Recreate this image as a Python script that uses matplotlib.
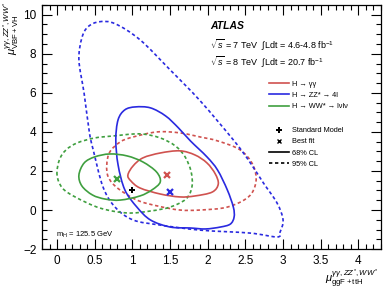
import numpy as np
import matplotlib
matplotlib.use("Agg")
from matplotlib import pyplot as plt
from matplotlib.lines import Line2D
from matplotlib.path import Path
from matplotlib.patches import PathPatch

plt.rcParams['font.family'] = ['Liberation Sans', 'DejaVu Sans']
plt.rcParams['mathtext.fontset'] = 'custom'
plt.rcParams['mathtext.rm'] = 'Liberation Sans'
plt.rcParams['mathtext.it'] = 'Liberation Sans:italic'

# contours (mu_ggF+ttH, mu_VBF+VH)
zz95_x = [0.56, 0.77, 1.10, 1.50, 1.90, 2.34, 2.54, 2.74, 2.92, 3.00, 2.96, 2.92, 2.56, 1.90, 1.37, 1.01, 0.77, 0.61, 0.48, 0.43, 0.36, 0.29, 0.33, 0.41]
zz95_y = [9.64, 9.54, 8.72, 7.18, 5.59, 3.59, 2.56, 1.38, 0.36, -0.51, -1.13, -1.38, -1.18, -1.03, -0.77, -0.51, 0.15, 1.18, 3.08, 3.95, 5.95, 7.69, 8.82, 9.38]
zz68_x = [1.04, 1.24, 1.44, 1.61, 1.77, 1.99, 2.13, 2.26, 2.34, 2.35, 2.30, 2.17, 1.97, 1.77, 1.50, 1.24, 1.06, 0.90, 0.81, 0.78, 0.81, 0.90]
zz68_y = [5.28, 5.23, 4.82, 4.21, 3.54, 2.72, 2.05, 1.03, 0.15, -0.36, -0.72, -0.87, -0.97, -0.92, -0.87, -0.51, 0.15, 1.03, 2.31, 3.59, 4.62, 5.13]
gg68_x = [0.94, 1.01, 1.14, 1.37, 1.63, 1.83, 1.99, 2.10, 2.14, 2.06, 1.83, 1.63, 1.37, 1.10, 0.98]
gg68_y = [1.79, 2.26, 2.67, 2.92, 3.03, 2.82, 2.41, 1.85, 1.33, 0.92, 0.72, 0.67, 0.82, 1.13, 1.49]
gg95_x = [0.66, 0.70, 0.84, 1.01, 1.33, 1.63, 1.90, 2.13, 2.43, 2.60, 2.64, 2.54, 2.26, 1.90, 1.63, 1.33, 1.06, 0.80, 0.68]
gg95_y = [2.31, 2.97, 3.49, 3.74, 4.00, 3.95, 3.74, 3.54, 3.08, 2.31, 1.44, 0.67, 0.15, 0.00, 0.00, 0.21, 0.51, 1.13, 1.69]
ww68_x = [0.29, 0.36, 0.50, 0.70, 0.93, 1.14, 1.32, 1.37, 1.26, 1.10, 0.84, 0.64, 0.47, 0.33]
ww68_y = [1.79, 2.41, 2.72, 2.87, 2.77, 2.46, 1.95, 1.44, 1.03, 0.72, 0.51, 0.56, 0.77, 1.23]
ww95_x = [0.00, 0.03, 0.12, 0.27, 0.50, 0.74, 1.10, 1.37, 1.57, 1.70, 1.78, 1.79, 1.71, 1.50, 1.24, 0.93, 0.57, 0.24, 0.07]
ww95_y = [1.79, 2.56, 3.08, 3.44, 3.69, 3.79, 3.90, 3.69, 3.28, 2.72, 1.95, 1.18, 0.56, 0.15, -0.05, -0.15, 0.10, 0.67, 1.13]

best_x = [1.46, 1.50, 0.80]
best_y = [1.78, 0.91, 1.60]
sm_x, sm_y = 1.0, 1.0

red = '#d0524f'
blue = '#2a2ae0'
green = '#3f9f3f'
dash = (0, (2, 1.6))

fig = plt.figure(figsize=(3.87, 2.92), dpi=100)
ax = fig.add_axes([0.1085, 0.147, 0.876, 0.836])


def smooth_path(xs, ys):
    # closed curve through the read points, drawn as cubic bezier segments
    p = np.column_stack([xs, ys])
    n = len(p)
    verts = [p[0]]
    codes = [Path.MOVETO]
    for i in range(n):
        p0, p1, p2, p3 = p[i - 1], p[i], p[(i + 1) % n], p[(i + 2) % n]
        verts += [p1 + (p2 - p0) / 6, p2 - (p3 - p1) / 6, p2]
        codes += [Path.CURVE4] * 3
    return Path(verts, codes)


for (xs, ys, c) in [(gg95_x, gg95_y, red), (zz95_x, zz95_y, blue), (ww95_x, ww95_y, green)]:
    ax.add_patch(PathPatch(smooth_path(xs, ys), fill=False, edgecolor=c, lw=1.2, ls=dash))
for (xs, ys, c) in [(gg68_x, gg68_y, red), (zz68_x, zz68_y, blue), (ww68_x, ww68_y, green)]:
    ax.add_patch(PathPatch(smooth_path(xs, ys), fill=False, edgecolor=c, lw=1.2))

for bx, by, c in zip(best_x, best_y, [red, blue, green]):
    ax.plot(bx, by, marker='x', color=c, ms=4.5, mew=1.6)
ax.plot(sm_x, sm_y, marker='P', color='black', ms=5, mew=0)

ax.set_xlim(-0.2, 4.3)
ax.set_ylim(-2, 10.5)
ax.set_xticks(np.arange(0, 4.01, 0.5))
ax.set_xticklabels(['0', '0.5', '1', '1.5', '2', '2.5', '3', '3.5', '4'])
ax.set_yticks([-2, 0, 2, 4, 6, 8, 10])
ax.set_xticks(np.arange(-0.2, 4.31, 0.1), minor=True)
ax.set_yticks(np.arange(-2, 10.51, 0.5), minor=True)
ax.tick_params(which='both', direction='in', top=True, right=True, labelsize=8.5, pad=4)
ax.tick_params(which='major', length=7, width=0.8)
ax.tick_params(which='minor', length=3.5, width=0.8)
for s in ax.spines.values():
    s.set_linewidth(0.9)

ax.text(0.495, 0.9, 'ATLAS', transform=ax.transAxes, fontsize=7.5, fontweight='bold', style='italic')
ax.text(0.495, 0.818, r'$\sqrt{s}$ = 7 TeV  $\int$Ldt = 4.6-4.8 fb$^{-1}$', transform=ax.transAxes, fontsize=6.5)
ax.text(0.495, 0.75, r'$\sqrt{s}$ = 8 TeV  $\int$Ldt = 20.7 fb$^{-1}$', transform=ax.transAxes, fontsize=6.5)

handles = [Line2D([], [], color=red, lw=1.2),
           Line2D([], [], color=blue, lw=1.2),
           Line2D([], [], color=green, lw=1.2)]
labels = ['H → γγ', 'H → ZZ* → 4l', 'H → WW* → lνlν']
leg1 = ax.legend(handles, labels, loc='upper left', bbox_to_anchor=(0.67, 0.69), frameon=False,
                 fontsize=5.3, handlelength=2.7, handletextpad=0.4, labelspacing=0.55, borderpad=0,
                 borderaxespad=0)
ax.add_artist(leg1)
handles2 = [Line2D([], [], color='black', marker='P', ls='none', ms=5, mew=0),
            Line2D([], [], color='black', marker='x', ls='none', ms=3.5, mew=1.0),
            Line2D([], [], color='black', lw=1.2),
            Line2D([], [], color='black', lw=1.2, ls=dash)]
labels2 = ['Standard Model', 'Best fit', '68% CL', '95% CL']
ax.legend(handles2, labels2, loc='upper left', bbox_to_anchor=(0.67, 0.5), frameon=False,
          fontsize=5.3, handlelength=2.7, handletextpad=0.4, labelspacing=0.55, borderpad=0,
          borderaxespad=0)

ax.text(0.04, 0.05, r'm$_{\mathrm{H}}$ = 125.5 GeV', transform=ax.transAxes, fontsize=5.5)

fig.text(0.84, 0.03, r'$\mu^{\gamma\gamma,ZZ^{*},WW^{*}}_{\mathrm{ggF+ttH}}$', fontsize=8)
fig.text(0.004, 0.995, r'$\mu^{\gamma\gamma,ZZ^{*},WW^{*}}_{\mathrm{VBF+VH}}$', fontsize=8, rotation=90, va='top')

fig.savefig('out.png', dpi=100)
